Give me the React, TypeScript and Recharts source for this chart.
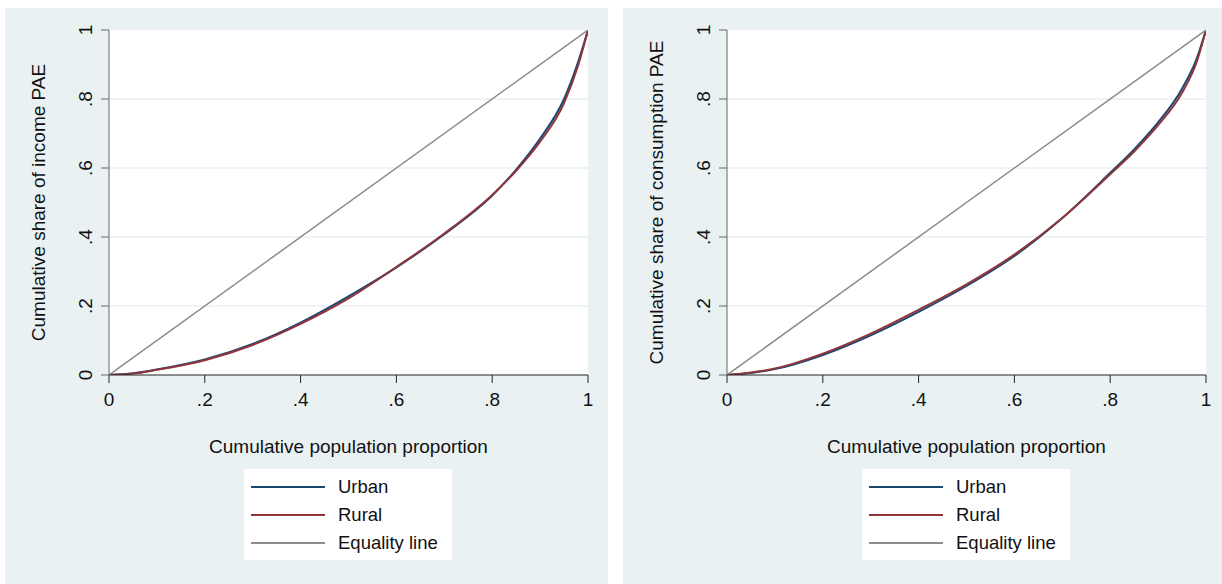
import React from "react";
import {
  LineChart,
  Line,
  XAxis,
  YAxis,
  CartesianGrid,
  Legend,
} from "recharts";

// cumulative population proportion (x) at which the curves are read
const popShare = [0, 0.05, 0.1, 0.2, 0.3, 0.4, 0.5, 0.6, 0.7, 0.8, 0.85, 0.9, 0.95, 0.98, 1];

// income PAE lorenz curves
const incomeUrban = [0, 0.005, 0.016, 0.045, 0.09, 0.152, 0.228, 0.312, 0.408, 0.52, 0.595, 0.685, 0.8, 0.91, 1];
const incomeRural = [0, 0.004, 0.015, 0.043, 0.087, 0.148, 0.222, 0.313, 0.41, 0.522, 0.592, 0.676, 0.788, 0.9, 1];

// consumption PAE lorenz curves
const consUrban = [0, 0.006, 0.017, 0.058, 0.115, 0.183, 0.258, 0.345, 0.455, 0.586, 0.654, 0.732, 0.83, 0.915, 1];
const consRural = [0, 0.007, 0.019, 0.062, 0.12, 0.189, 0.263, 0.349, 0.455, 0.582, 0.648, 0.724, 0.818, 0.905, 1];

// equality line end points
const equalityX = [0, 1];
const equalityY = [0, 1];

const axisTicks = [0, 0.2, 0.4, 0.6, 0.8, 1];
const gridValues = [0.2, 0.4, 0.6, 0.8];
const seriesNames = ["Urban", "Rural", "Equality line"];

const FONT = "'Liberation Sans', Arial, sans-serif";
const BG = "#E9F1F3";
const COLORS = { urban: "#1A476F", rural: "#90353B", equality: "#8C8C8C" };

const fmt = (v: number) => (v === 0 ? "0" : v === 1 ? "1" : String(v).replace(/^0/, ""));

const equalityData = equalityX.map((x, i) => ({ x, y: equalityY[i] }));

function YTick(props: any) {
  const { x, y, payload } = props;
  const cx = x - 16;
  return (
    <text
      x={cx}
      y={y}
      transform={`rotate(-90, ${cx}, ${y})`}
      textAnchor="middle"
      dominantBaseline="central"
      fontSize={19}
      fontFamily={FONT}
      fill="#111"
    >
      {fmt(payload.value)}
    </text>
  );
}

function LegendBox({ payload }: any) {
  const items = (payload || [])
    .filter((p: any) => seriesNames.includes(p.value))
    .sort((a: any, b: any) => seriesNames.indexOf(a.value) - seriesNames.indexOf(b.value));
  return (
    <div
      style={{
        background: "#fff",
        width: 208,
        height: 91,
        boxSizing: "border-box",
        paddingTop: 4,
        fontFamily: FONT,
      }}
    >
      {items.map((p: any) => (
        <div key={p.value} style={{ height: 28, display: "flex", alignItems: "center" }}>
          <svg width={94} height={28}>
            <line x1={7} x2={81} y1={14} y2={14} stroke={p.color} strokeWidth={2} />
          </svg>
          <span style={{ fontSize: 18.5, color: "#111" }}>{p.value}</span>
        </div>
      ))}
    </div>
  );
}

interface PanelProps {
  left: number;
  width: number;
  marginRight: number;
  yTitle: string;
  urban: number[];
  rural: number[];
}

function LorenzPanel({ left, width, marginRight, yTitle, urban, rural }: PanelProps) {
  const data = popShare.map((x, i) => ({ x, urban: urban[i], rural: rural[i] }));
  return (
    <div style={{ position: "absolute", left, top: 8, width, height: 576, background: BG }}>
      <LineChart
        width={width}
        height={576}
        data={data}
        margin={{ top: 22, right: marginRight, left: 44, bottom: 179 }}
      >
        <CartesianGrid
          vertical={false}
          horizontalValues={gridValues}
          stroke="#E8EFF2"
          strokeWidth={1.5}
          fill="#fff"
        />
        <XAxis
          type="number"
          dataKey="x"
          domain={[0, 1]}
          ticks={axisTicks}
          tickFormatter={fmt}
          height={30}
          tickSize={8}
          tickMargin={10}
          axisLine={{ stroke: "#222" }}
          tickLine={{ stroke: "#222" }}
          tick={{ fontSize: 19, fontFamily: FONT, fill: "#111" }}
          allowDataOverflow
          label={{
            content: (p: any) => {
              const vb = p.viewBox;
              return (
                <text
                  x={vb.x + vb.width / 2}
                  y={vb.y + 71}
                  textAnchor="middle"
                  dominantBaseline="central"
                  fontSize={19}
                  fontFamily={FONT}
                  fill="#111"
                >
                  Cumulative population proportion
                </text>
              );
            },
          }}
        />
        <YAxis
          type="number"
          domain={[0, 1]}
          ticks={axisTicks}
          width={60}
          tickSize={8}
          tickMargin={0}
          axisLine={{ stroke: "#666" }}
          tickLine={{ stroke: "#666" }}
          tick={<YTick />}
          allowDataOverflow
          label={{
            content: (p: any) => {
              const vb = p.viewBox;
              const cx = vb.x + vb.width - 71;
              const cy = vb.y + vb.height / 2;
              return (
                <text
                  x={cx}
                  y={cy}
                  transform={`rotate(-90, ${cx}, ${cy})`}
                  textAnchor="middle"
                  dominantBaseline="central"
                  fontSize={19}
                  fontFamily={FONT}
                  fill="#111"
                >
                  {yTitle}
                </text>
              );
            },
          }}
        />
        <Line
          type="monotone"
          dataKey="urban"
          name="Urban"
          stroke={COLORS.urban}
          strokeWidth={2}
          dot={false}
          isAnimationActive={false}
        />
        <Line
          type="monotone"
          dataKey="rural"
          name="Rural"
          stroke={COLORS.rural}
          strokeWidth={2}
          dot={false}
          isAnimationActive={false}
        />
        <Line
          data={equalityData}
          type="linear"
          dataKey="y"
          name="Equality line"
          stroke={COLORS.equality}
          strokeWidth={1.5}
          dot={false}
          isAnimationActive={false}
        />
        <Legend
          layout="horizontal"
          verticalAlign="middle"
          align="center"
          content={<LegendBox />}
          wrapperStyle={{ left: 239, top: 461, width: 208, height: 91 }}
        />
      </LineChart>
    </div>
  );
}

export default function App() {
  return (
    <div style={{ position: "absolute", left: 0, top: 0, width: 1222, height: 584, background: "#fff" }}>
      <LorenzPanel
        left={5}
        width={603}
        marginRight={20}
        yTitle="Cumulative share of income PAE"
        urban={incomeUrban}
        rural={incomeRural}
      />
      <LorenzPanel
        left={623}
        width={599}
        marginRight={16}
        yTitle="Cumulative share of consumption PAE"
        urban={consUrban}
        rural={consRural}
      />
    </div>
  );
}
